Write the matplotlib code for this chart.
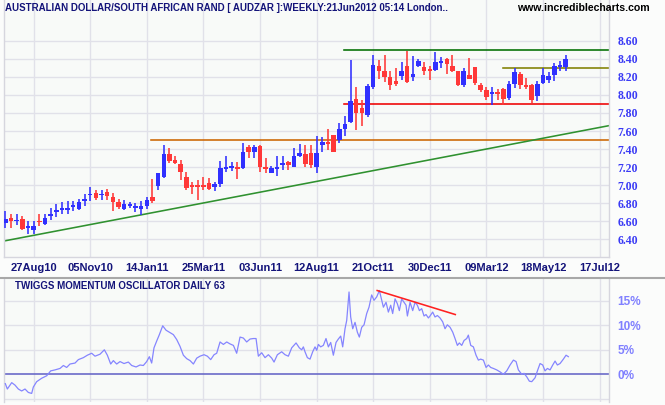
"""AUD/ZAR weekly candlesticks with Twiggs Momentum oscillator (incrediblecharts style)."""
import matplotlib
matplotlib.use("Agg")
import matplotlib.pyplot as plt
from matplotlib import font_manager as fm

# ---- weekly OHLC, week 0 = 23Jul10 ----
opens = [6.58, 6.64, 6.60, 6.63, 6.53, 6.50, 6.60, 6.57, 6.66, 6.70,
         6.73, 6.73, 6.76, 6.74, 6.83, 6.89, 6.91, 6.89, 6.92, 6.87,
         6.81, 6.74, 6.77, 6.75, 6.74, 6.77, 6.87, 6.99, 7.09, 7.35,
         7.28, 7.24, 7.09, 6.99, 6.99, 6.99, 7.03, 6.98, 7.01, 7.18,
         7.19, 7.20, 7.19, 7.42, 7.37, 7.43, 7.20, 7.14, 7.18, 7.22,
         7.26, 7.20, 7.32, 7.35, 7.36, 7.20, 7.45, 7.47, 7.56, 7.50,
         7.62, 7.70, 7.95, 7.86, 7.78, 8.09, 8.32, 8.26, 8.20, 8.15,
         8.21, 8.32, 8.20, 8.32, 8.31, 8.29, 8.28, 8.35, 8.40, 8.32,
         8.26, 8.11, 8.22, 8.31, 8.11, 8.05, 8.01, 8.025, 8.07, 7.97,
         8.12, 8.23, 8.11, 8.11, 7.99, 8.13, 8.17, 8.22, 8.31, 8.31]
highs = [6.71, 6.68, 6.68, 6.66, 6.60, 6.60, 6.68, 6.68, 6.75, 6.79,
         6.81, 6.82, 6.82, 6.85, 6.90, 6.98, 6.95, 6.95, 6.96, 6.91,
         6.85, 6.84, 6.81, 6.80, 6.82, 6.87, 7.07, 7.14, 7.44, 7.41,
         7.32, 7.28, 7.15, 7.04, 7.06, 7.09, 7.08, 7.04, 7.27, 7.32,
         7.26, 7.26, 7.47, 7.45, 7.45, 7.45, 7.30, 7.21, 7.32, 7.32,
         7.27, 7.41, 7.46, 7.45, 7.45, 7.54, 7.53, 7.62, 7.56, 7.69,
         7.77, 8.39, 8.09, 7.94, 8.12, 8.44, 8.39, 8.44, 8.27, 8.30,
         8.36, 8.49, 8.43, 8.40, 8.36, 8.32, 8.48, 8.42, 8.41, 8.44,
         8.27, 8.30, 8.41, 8.31, 8.13, 8.09, 8.09, 8.07, 8.08, 8.15,
         8.30, 8.25, 8.19, 8.12, 8.15, 8.30, 8.25, 8.35, 8.37, 8.44]
lows = [6.53, 6.53, 6.56, 6.50, 6.46, 6.46, 6.55, 6.56, 6.62, 6.65,
        6.68, 6.68, 6.71, 6.72, 6.77, 6.82, 6.84, 6.84, 6.84, 6.71,
        6.74, 6.72, 6.75, 6.70, 6.67, 6.74, 6.80, 6.95, 7.08, 7.25,
        7.23, 7.06, 6.95, 6.90, 6.84, 6.95, 6.95, 6.94, 6.98, 7.15,
        7.16, 7.07, 7.18, 7.30, 7.30, 7.15, 7.14, 7.13, 7.10, 7.17,
        7.17, 7.20, 7.31, 7.20, 7.19, 7.14, 7.37, 7.39, 7.37, 7.47,
        7.54, 7.69, 7.61, 7.66, 7.75, 8.06, 8.18, 8.14, 8.05, 8.10,
        8.16, 8.13, 8.15, 8.31, 8.22, 8.17, 8.26, 8.30, 8.23, 8.25,
        8.10, 8.09, 8.18, 8.11, 8.03, 7.94, 7.89, 7.94, 7.89, 7.94,
        8.08, 8.07, 8.07, 7.91, 7.93, 8.12, 8.13, 8.15, 8.26, 8.26]
closes = [6.63, 6.60, 6.62, 6.51, 6.54, 6.55, 6.59, 6.64, 6.68, 6.72,
          6.74, 6.74, 6.78, 6.81, 6.85, 6.90, 6.86, 6.90, 6.88, 6.81,
          6.76, 6.79, 6.78, 6.76, 6.77, 6.84, 6.83, 7.13, 7.35, 7.27,
          7.25, 7.15, 6.97, 6.98, 6.98, 6.98, 6.96, 7.01, 7.19, 7.20,
          7.21, 7.18, 7.37, 7.37, 7.42, 7.20, 7.18, 7.19, 7.20, 7.25,
          7.22, 7.32, 7.36, 7.24, 7.22, 7.36, 7.48, 7.46, 7.37, 7.62,
          7.68, 7.93, 7.80, 7.80, 8.10, 8.33, 8.26, 8.20, 8.11, 8.12,
          8.27, 8.14, 8.23, 8.38, 8.26, 8.26, 8.36, 8.38, 8.34, 8.26,
          8.11, 8.26, 8.18, 8.13, 8.05, 7.98, 8.03, 8.015, 7.95, 8.12,
          8.25, 8.11, 8.09, 7.94, 8.12, 8.22, 8.21, 8.32, 8.32, 8.40]

# date axis: label every 10 weeks
tick_weeks = [5, 15, 25, 35, 45, 55, 65, 75, 85, 95, 105]
tick_labels = ["27Aug10", "05Nov10", "14Jan11", "25Mar11", "03Jun11", "12Aug11",
               "21Oct11", "30Dec11", "09Mar12", "18May12", "17Jul12"]
price_ticks = [6.40, 6.60, 6.80, 7.00, 7.20, 7.40, 7.60, 7.80, 8.00, 8.20, 8.40, 8.60]

# drawn support / resistance lines: (start week, level, colour)
levels = [(59.8, 8.50, "#006e00"), (59.8, 7.90, "#ee0000"),
          (87.9, 8.30, "#808000"), (25.7, 7.50, "#cc6600")]
trend_weeks = [0.0, 106.7]
trend_prices = [6.385, 7.66]

# ---- Twiggs Momentum (daily 63), in % ----
osc_weeks = [0.0, 0.36, 1.13, 1.71, 2.30, 2.89, 3.48, 4.07, 4.66, 4.95,
             5.54, 6.43, 7.31, 8.02, 8.78, 9.67, 10.26, 10.84, 11.43, 12.32,
             12.91, 13.79, 14.50, 15.26, 15.85, 16.73, 17.50, 18.03, 18.62, 19.09,
             19.68, 20.27, 20.97, 21.74, 22.33, 23.10, 23.80, 24.39, 24.98, 25.45,
             25.86, 26.27, 26.75, 27.22, 27.81, 28.40, 29.10, 29.69, 30.28, 30.87,
             31.46, 32.05, 32.64, 33.23, 33.82, 34.40, 35.11, 35.70, 36.29, 36.88,
             37.35, 37.94, 38.53, 39.12, 39.71, 40.30, 40.88, 41.47, 42.06, 42.65,
             43.24, 43.83, 44.30, 44.71, 45.30, 45.89, 46.48, 47.07, 47.48, 48.07,
             48.83, 49.42, 50.01, 50.60, 51.37, 51.95, 52.37, 52.66, 52.95, 53.37,
             53.84, 54.31, 54.72, 55.02, 55.31, 55.72, 56.19, 56.66, 57.08, 57.49,
             57.96, 58.43, 58.84, 59.26, 59.61, 60.02, 60.32, 60.73, 61.02, 61.38,
             61.79, 62.20, 62.55, 62.97, 63.38, 63.85, 64.26, 64.73, 65.14, 65.62,
             66.09, 66.44, 66.80, 67.27, 67.68, 68.09, 68.44, 68.86, 69.27, 69.62,
             70.03, 70.45, 70.80, 71.04, 71.51, 71.98, 72.39, 72.80, 73.16, 73.57,
             73.98, 74.33, 74.75, 75.04, 75.51, 75.92, 76.34, 76.81, 77.28, 77.69,
             78.10, 78.58, 79.05, 79.46, 79.87, 80.22, 80.64, 81.05, 81.52, 81.81,
             82.23, 82.70, 83.17, 83.58, 83.99, 84.47, 84.94, 85.35, 85.76, 86.23,
             86.82, 87.41, 88.00, 88.59, 89.18, 89.77, 90.24, 90.65, 91.24, 91.65,
             92.12, 92.59, 93.01, 93.60, 94.01, 94.48, 94.95, 95.36, 95.78, 96.25,
             96.72, 97.13, 97.54, 98.01, 98.60, 99.07, 99.48]
osc_vals = [-1.9, -3.0, -1.7, -2.2, -3.0, -3.4, -3.0, -3.7, -3.9, -2.6,
            -1.5, -0.8, -0.3, 0.7, 0.9, 1.2, 1.8, 1.4, 2.1, 2.3,
            3.0, 3.4, 3.9, 4.3, 3.7, 4.1, 5.0, 3.9, 2.1, 2.8,
            2.1, 2.6, 2.2, 2.5, 1.8, 1.5, 1.9, 1.8, 2.6, 3.6,
            2.3, 5.4, 6.8, 8.1, 9.9, 9.0, 8.5, 8.1, 7.1, 5.7,
            3.9, 3.2, 2.8, 2.1, 3.3, 3.7, 4.0, 3.7, 3.0, 4.0,
            4.3, 6.6, 6.1, 6.6, 6.2, 5.9, 4.3, 7.6, 7.4, 6.6,
            7.2, 7.3, 7.3, 3.7, 4.4, 3.4, 4.0, 3.3, 2.5, 4.0,
            4.6, 4.0, 3.7, 5.4, 6.4, 5.4, 5.0, 5.6, 4.6, 3.4,
            3.1, 4.6, 5.6, 4.9, 6.1, 5.6, 5.9, 7.3, 5.6, 6.5,
            3.9, 6.5, 7.2, 7.8, 5.6, 9.3, 11.0, 16.8, 11.7, 9.3,
            10.6, 8.6, 7.6, 9.6, 10.1, 12.4, 13.7, 16.2, 15.1, 15.8,
            17.1, 15.4, 13.7, 14.7, 12.7, 14.1, 12.4, 15.4, 14.4, 13.0,
            15.4, 14.7, 14.1, 11.9, 14.7, 13.0, 14.7, 14.1, 13.0, 13.4,
            11.9, 12.2, 11.5, 11.9, 12.7, 11.7, 12.0, 11.5, 10.7, 9.3,
            10.1, 9.6, 8.6, 7.3, 5.9, 6.4, 5.9, 6.9, 7.3, 8.0,
            5.9, 5.6, 3.9, 2.9, 3.1, 2.9, 1.4, 1.9, 1.4, 1.2,
            0.9, 0.5, 0.0, 0.7, 1.9, 2.9, 2.6, 0.9, 0.0, 0.2,
            -0.5, -1.4, -1.5, -0.7, 0.7, 2.2, 1.9, 0.7, 1.2, 0.9,
            1.9, 2.7, 1.9, 2.2, 3.1, 3.9, 3.6]
osc_ticks = [0, 5, 10, 15]
osc_trend_weeks = [65.7, 79.5]
osc_trend_vals = [17.1, 12.2]

# ---- styling ----
UP, DOWN = "#3030ff", "#ff3838"
NAVY = "#14147a"
GRID = "#e1e1e9"
BG = "#f8faf8"


def pick_font(*names):
    for n in names:
        try:
            fm.findfont(fm.FontProperties(family=n), fallback_to_default=False)
            return n
        except ValueError:
            pass
    return "DejaVu Sans"


narrow = pick_font("Liberation Sans Narrow", "Arial Narrow")
narrow_ok = narrow != "DejaVu Sans"
if not narrow_ok:
    narrow = pick_font("Liberation Sans")
sans = pick_font("Liberation Sans", "Arial")
serif = pick_font("Liberation Serif", "Times New Roman")

W, H = 665, 405
fig = plt.figure(figsize=(W / 100, H / 100), dpi=100, facecolor="#fbfcfb")

xlim = (-0.23, 106.66)
ax = fig.add_axes([4 / W, 1 - 257 / H, 605 / W, 257 / H], facecolor=BG)
ax2 = fig.add_axes([4 / W, 1 - 402 / H, 605 / W, 123 / H], facecolor=BG)

# main panel --------------------------------------------------------------
for a in (ax, ax2):
    a.set_xlim(*xlim)
    for s in a.spines.values():
        s.set_color("#d6d6de")
        s.set_linewidth(1)
    a.spines["top"].set_visible(False)
    for w in tick_weeks:
        a.axvline(w, color=GRID, lw=1, zorder=0)

ax.set_ylim(6.205, 9.051)
for p in price_ticks:
    ax.axhline(p, color=GRID, lw=1, zorder=0)

weeks = list(range(len(opens)))
colors = [UP if c >= o else DOWN for o, c in zip(opens, closes)]
ax.vlines(weeks, lows, highs, colors=colors, lw=1.15, zorder=3)
bottoms = [min(o, c) for o, c in zip(opens, closes)]
heights = [max(abs(c - o), 0.018) for o, c in zip(opens, closes)]
ax.bar(weeks, heights, bottom=bottoms, width=0.8, color=colors, lw=0, zorder=4)

for start, lvl, col in levels:
    ax.plot([start, xlim[1]], [lvl, lvl], color=col, lw=1.15, zorder=2)
ax.plot(trend_weeks, trend_prices, color="#2f912f", lw=1.15, zorder=2)

ax.yaxis.tick_right()
ax.set_yticks(price_ticks, [f"{p:.2f}" for p in price_ticks])
ax.tick_params(axis="y", length=0, pad=6, labelcolor="#3b3bf5", labelsize=8.5)
for t in ax.get_yticklabels():
    t.set_fontfamily(serif)
    t.set_fontweight("bold")
ax.set_xticks(tick_weeks, tick_labels)
ax.tick_params(axis="x", length=0, pad=4, labelcolor=NAVY, labelsize=8)
for t in ax.get_xticklabels():
    t.set_fontfamily(sans)
    t.set_fontweight("bold")

# oscillator panel ----------------------------------------------------------
ax2.set_ylim(-5.65, 19.45)
for v in [-5, 5, 10, 15]:
    ax2.axhline(v, color=GRID, lw=1, zorder=0)
ax2.axhline(0, color="#6b6bc8", lw=1.2, zorder=1)
ax2.plot(osc_weeks, osc_vals, color="#8585ff", lw=0.9, zorder=3)
ax2.plot(osc_trend_weeks, osc_trend_vals, color="#ff2020", lw=1.15, zorder=4)
ax2.set_xticks([])
ax2.yaxis.tick_right()
ax2.set_yticks(osc_ticks, [f"{v}%" for v in osc_ticks])
ax2.tick_params(axis="y", length=0, pad=6, labelcolor="#8080ff", labelsize=8.5)
for t in ax2.get_yticklabels():
    t.set_fontfamily(sans)
    t.set_fontweight("bold")
ax2.spines["bottom"].set_visible(False)

# separator under the date strip
fig.add_artist(plt.Line2D([0, 1], [1 - 278 / H] * 2, color="#a8a8a8", lw=1.5))

# titles ------------------------------------------------------------------
tsize = 8.1 if narrow_ok else 7.0
fig.text(5 / W, 1 - 8 / H,
         "AUSTRALIAN DOLLAR/SOUTH AFRICAN RAND [ AUDZAR ]:WEEKLY:21Jun2012 05:14 London..",
         family=narrow, weight="bold", size=tsize, color=NAVY, va="center")
fig.text(650 / W, 1 - 8 / H, "www.incrediblecharts.com",
         family=narrow if narrow_ok else sans, weight="bold",
         size=8.8 if narrow_ok else 7.6, color="black", va="center", ha="right")
fig.text(15 / W, 1 - 286 / H, "TWIGGS MOMENTUM OSCILLATOR DAILY 63",
         family=narrow, weight="bold", size=8.3 if narrow_ok else 7.0,
         color=NAVY, va="center")

fig.savefig("out.png", dpi=100, facecolor=fig.get_facecolor())
